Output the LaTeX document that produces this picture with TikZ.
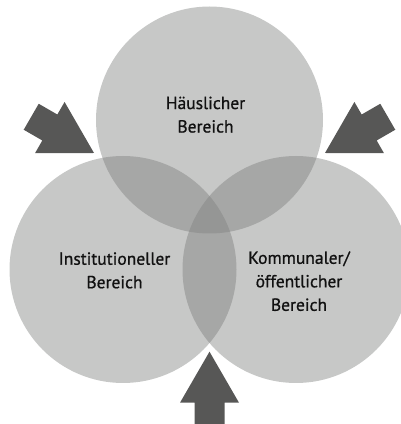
\documentclass[tikz,border=0pt]{standalone}
\usepackage{fontspec}
\setmainfont[FakeBold=0.8]{PT Sans}
\definecolor{cone}{HTML}{C7C8C7}
\definecolor{ctwo}{HTML}{A6A7A6}
\definecolor{cthree}{HTML}{959695}
\definecolor{arrowgray}{HTML}{575756}
\definecolor{txt}{HTML}{111111}
\begin{document}
\begin{tikzpicture}[x=1pt,y=1pt,
  lbl/.style={align=center,text=txt,font=\fontsize{17.5}{23.5}\selectfont,inner sep=0pt},
  blockarrow/.style={fill=arrowgray,draw=none}]
\useasboundingbox (0,0) rectangle (401,424);
\def\R{113.5}
\coordinate (T) at (209.5,304);
\coordinate (L) at (123,154.5);
\coordinate (Rc) at (296,154.5);
% circles
\fill[cone] (T) circle (\R);
\fill[cone] (L) circle (\R);
\fill[cone] (Rc) circle (\R);
% pairwise overlaps
\begin{scope}\clip (T) circle (\R); \fill[ctwo] (L) circle (\R); \fill[ctwo] (Rc) circle (\R);\end{scope}
\begin{scope}\clip (L) circle (\R); \fill[ctwo] (Rc) circle (\R);\end{scope}
% triple
\begin{scope}\clip (T) circle (\R); \clip (L) circle (\R); \fill[cthree] (Rc) circle (\R);\end{scope}
% arrows
\foreach \nm/\px/\py/\ang in {al/94/271/-30, ar/325/271/210, ab/209.5/72.3/90}{
  \coordinate (\nm) at (\px,\py);
  \fill[blockarrow,shift={(\nm)},rotate=\ang]
    (0,0) -- (-51,29.5) -- (-51,15) -- (-72.5,15) -- (-72.5,-15) -- (-51,-15) -- (-51,-29.5) -- cycle;
}
% labels
\node[lbl] (haus) at (205.5,309.3) {Häuslicher\\Bereich};
\node[lbl] (inst) at (114.5,153.6) {Institutioneller\\Bereich};
\node[lbl] (komm) at (299,142.8) {Kommunaler/\\öffentlicher\\Bereich};
\end{tikzpicture}
\end{document}
